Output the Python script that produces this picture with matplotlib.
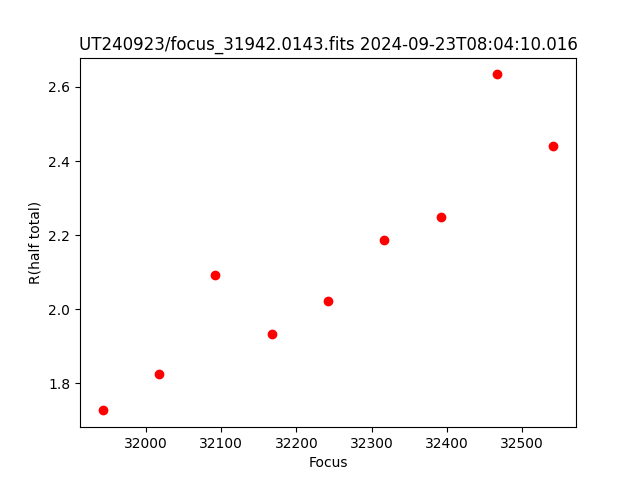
import matplotlib
matplotlib.use('Agg')
import matplotlib.pyplot as plt

focus = [31942, 32017, 32092, 32167, 32242, 32317, 32392, 32467, 32542]
r_half = [1.727, 1.824, 2.092, 1.932, 2.022, 2.186, 2.248, 2.634, 2.440]

plt.figure(figsize=(6.4, 4.8), dpi=100)
plt.plot(focus, r_half, 'ro')
plt.title("UT240923/focus_31942.0143.fits 2024-09-23T08:04:10.016")
plt.xlabel("Focus")
plt.ylabel("R(half total)")
plt.savefig('out.png')
